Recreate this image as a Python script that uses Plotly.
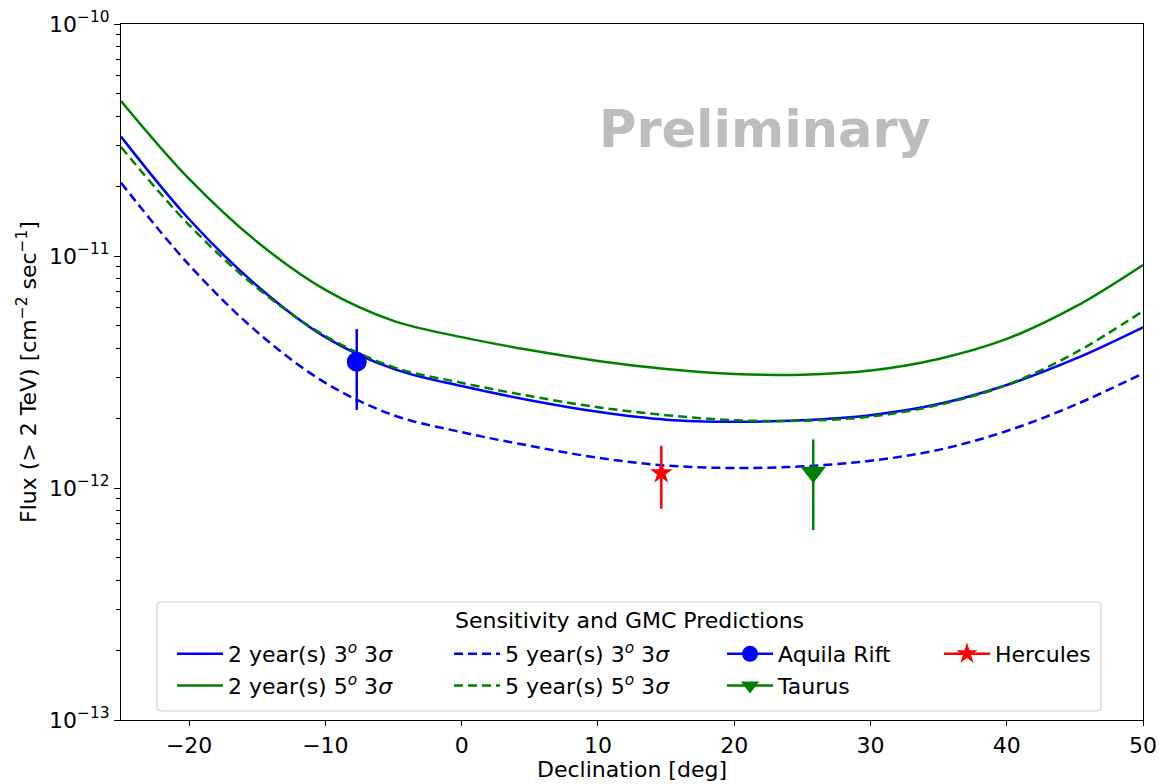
import plotly.graph_objects as go

# ---------------- data ----------------
dec = [-25, -20, -15, -10, -5, 0, 5, 10, 15, 20, 25, 30, 35, 40, 45, 50]

sens_2yr_3deg = [3.27e-11, 1.44e-11, 7.43e-12, 4.47e-12, 3.26e-12, 2.75e-12, 2.39e-12, 2.13e-12,
                 1.97e-12, 1.93e-12, 1.96e-12, 2.06e-12, 2.30e-12, 2.78e-12, 3.60e-12, 4.93e-12]
sens_2yr_5deg = [4.66e-11, 2.15e-11, 1.15e-11, 7.14e-12, 5.25e-12, 4.47e-12, 3.93e-12, 3.53e-12,
                 3.26e-12, 3.10e-12, 3.08e-12, 3.21e-12, 3.60e-12, 4.39e-12, 6.03e-12, 9.15e-12]
sens_5yr_3deg = [2.07e-11, 9.15e-12, 4.70e-12, 2.84e-12, 2.06e-12, 1.74e-12, 1.52e-12, 1.35e-12,
                 1.25e-12, 1.22e-12, 1.24e-12, 1.31e-12, 1.46e-12, 1.76e-12, 2.28e-12, 3.12e-12]
sens_5yr_5deg = [2.95e-11, 1.36e-11, 7.28e-12, 4.52e-12, 3.32e-12, 2.84e-12, 2.49e-12, 2.23e-12,
                 2.06e-12, 1.96e-12, 1.95e-12, 2.03e-12, 2.28e-12, 2.78e-12, 3.82e-12, 5.79e-12]

gmc_names = ["Aquila Rift", "Hercules", "Taurus"]
gmc_dec = [-7.7, 14.65, 25.8]
gmc_flux = [3.50e-12, 1.16e-12, 1.17e-12]
gmc_flux_hi = [4.84e-12, 1.52e-12, 1.62e-12]
gmc_flux_lo = [2.17e-12, 8.14e-13, 6.59e-13]

x_ticks = [-20, -10, 0, 10, 20, 30, 40, 50]
x_ticklabels = ["−20", "−10", "0", "10", "20", "30", "40", "50"]
y_ticks = [1e-13, 1e-12, 1e-11, 1e-10]
y_ticklabels = ["10<sup>−13</sup>", "10<sup>−12</sup>", "10<sup>−11</sup>", "10<sup>−10</sup>"]

# ---------------- styles ----------------
BLUE = "#0000ff"
GREEN = "#008000"
RED = "#ff0000"
FONT = "DejaVu Sans"
FS = 22
DASH = "9px,5px"
LW = 2.5

fig = go.Figure()

curves = [
    (sens_2yr_3deg, BLUE, "solid", "2 year(s) 3<sup><i>o</i></sup> 3<i>σ</i>", "legend"),
    (sens_2yr_5deg, GREEN, "solid", "2 year(s) 5<sup><i>o</i></sup> 3<i>σ</i>", "legend"),
    (sens_5yr_3deg, BLUE, DASH, "5 year(s) 3<sup><i>o</i></sup> 3<i>σ</i>", "legend2"),
    (sens_5yr_5deg, GREEN, DASH, "5 year(s) 5<sup><i>o</i></sup> 3<i>σ</i>", "legend2"),
]
for i, (ys, col, dash, name, leg) in enumerate(curves):
    fig.add_trace(go.Scatter(
        x=dec, y=ys, mode="lines", name=name, legend=leg, legendgroup=f"g{i}",
        line=dict(color=col, width=LW, dash=dash, shape="spline", smoothing=1.0),
    ))

point_styles = {
    "Aquila Rift": (BLUE, "circle", 20, "legend3"),
    "Taurus": (GREEN, "triangle-down", 22, "legend3"),
    "Hercules": (RED, "star", 17, "legend4"),
}
for name in ["Aquila Rift", "Taurus", "Hercules"]:
    k = gmc_names.index(name)
    col, sym, size, leg = point_styles[name]
    fig.add_trace(go.Scatter(
        x=[gmc_dec[k]], y=[gmc_flux[k]], mode="lines+markers", name=name,
        legend=leg, legendgroup=f"p{k}",
        line=dict(color=col, width=LW),
        marker=dict(color=col, symbol=sym, size=size, line=dict(width=0)),
        error_y=dict(type="data", symmetric=False,
                     array=[gmc_flux_hi[k] - gmc_flux[k]],
                     arrayminus=[gmc_flux[k] - gmc_flux_lo[k]],
                     color=col, thickness=LW, width=0),
    ))

# ---------------- layout ----------------
W, H = 1159, 784
ML, MR, MT, MB = 121, 16, 24, 64
PW, PH = W - ML - MR, H - MT - MB


def px_to_paper(xp, yp):
    return (xp - ML) / PW, (H - MB - yp) / PH


def P(xp, yp):
    a, b = px_to_paper(xp, yp)
    return f"{a:.5f},{b:.5f}"


# legend frame (rounded rectangle)
x0p, y0p, x1p, y1p, r = 157, 602, 1101, 711, 4
path = (f"M {P(x0p + r, y0p)} L {P(x1p - r, y0p)} Q {P(x1p, y0p)} {P(x1p, y0p + r)} "
        f"L {P(x1p, y1p - r)} Q {P(x1p, y1p)} {P(x1p - r, y1p)} "
        f"L {P(x0p + r, y1p)} Q {P(x0p, y1p)} {P(x0p, y1p - r)} "
        f"L {P(x0p, y0p + r)} Q {P(x0p, y0p)} {P(x0p + r, y0p)} Z")
fig.add_shape(type="path", path=path, xref="paper", yref="paper",
              line=dict(color="#d0d0d0", width=1.2), fillcolor="rgba(255,255,255,0.85)",
              layer="above")

leg_common = dict(bgcolor="rgba(0,0,0,0)", borderwidth=0,
                  font=dict(family=FONT, size=FS, color="black"),
                  orientation="v", xanchor="left", yanchor="top", tracegroupgap=0,
                  itemwidth=46)
row_top = px_to_paper(0, 633)[1]
fig.update_layout(
    legend=dict(x=px_to_paper(172, 0)[0], y=row_top, **leg_common),
    legend2=dict(x=px_to_paper(449, 0)[0], y=row_top, **leg_common),
    legend3=dict(x=px_to_paper(722, 0)[0], y=row_top, **leg_common),
    legend4=dict(x=px_to_paper(939, 0)[0], y=row_top, **leg_common),
)

tx, ty = px_to_paper(629, 620)
fig.add_annotation(x=tx, y=ty, xref="paper", yref="paper", text="Sensitivity and GMC Predictions",
                   showarrow=False, font=dict(family=FONT, size=FS, color="black"),
                   xanchor="center", yanchor="middle")

px_, py_ = px_to_paper(765, 129)
fig.add_annotation(x=px_, y=py_, xref="paper", yref="paper", text="<b>Preliminary</b>",
                   showarrow=False, font=dict(family=FONT, size=51, color="#bdbdbd"),
                   xanchor="center", yanchor="middle")

minor_y = [k * 10.0 ** e for e in (-13, -12, -11) for k in range(2, 10)]

fig.update_layout(
    width=W, height=H,
    margin=dict(l=ML, r=MR, t=MT, b=MB, autoexpand=False),
    paper_bgcolor="white", plot_bgcolor="white",
    font=dict(family=FONT, size=FS, color="black"),
    xaxis=dict(range=[-25, 50], tickvals=x_ticks, ticktext=x_ticklabels,
               ticks="outside", ticklen=5, tickwidth=1.2, tickcolor="black",
               showline=True, linecolor="black", linewidth=1.2, mirror=True,
               showgrid=False, zeroline=False, automargin=False,
               tickfont=dict(family=FONT, size=FS),
               title=dict(text="Declination [deg]", font=dict(family=FONT, size=FS), standoff=2)),
    yaxis=dict(type="log", range=[-13, -10], tickvals=y_ticks, ticktext=y_ticklabels,
               ticks="outside", ticklen=6, tickwidth=1.2, tickcolor="black",
               minor=dict(tickvals=minor_y, ticks="outside", ticklen=3.5, tickwidth=1, tickcolor="black"),
               showline=True, linecolor="black", linewidth=1.2, mirror=True,
               showgrid=False, zeroline=False, automargin=False,
               tickfont=dict(family=FONT, size=FS),
               title=dict(text="Flux (> 2 TeV) [cm<sup>−2</sup> sec<sup>−1</sup>]",
                          font=dict(family=FONT, size=FS), standoff=6)),
    showlegend=True,
)

fig.write_html("out.html")
